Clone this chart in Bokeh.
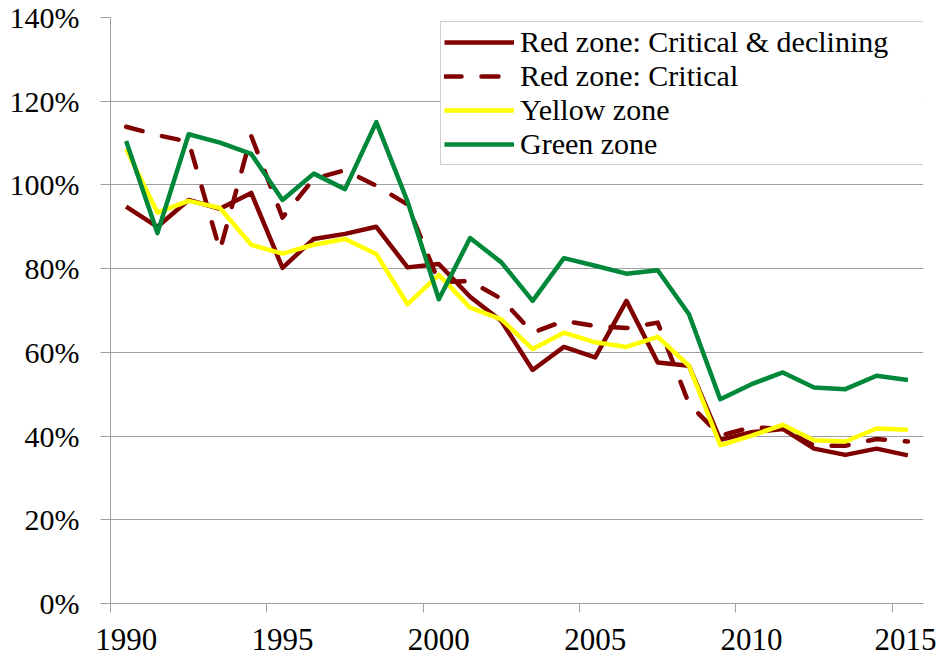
from bokeh.plotting import figure
from bokeh.models import FixedTicker, PrintfTickFormatter, Range1d, Legend, LegendItem, ColumnDataSource
from bokeh.embed import file_html
from bokeh.resources import INLINE

years = list(range(1990, 2016))

red_critical_declining = [94.8, 90.0, 96.4, 94.3, 98.1, 80.2, 87.1, 88.3, 90.0, 80.3,
                          81.1, 73.3, 67.5, 55.8, 61.3, 58.8, 72.3, 57.6, 56.8, 39.1,
                          40.9, 41.7, 37.0, 35.5, 37.0, 35.4]
red_critical = [113.9, 111.9, 110.3, 84.4, 111.7, 92.2, 101.5, 103.5, 99.8, 95.3,
                76.8, 77.0, 72.8, 64.7, 67.5, 66.3, 65.8, 67.1, 47.7, 40.1,
                42.1, 41.7, 37.7, 37.7, 39.3, 38.7]
yellow_zone = [108.6, 93.4, 96.2, 94.5, 85.7, 83.6, 85.7, 87.1, 83.5, 71.5,
               78.5, 70.7, 67.9, 60.8, 64.7, 62.4, 61.3, 63.7, 56.8, 37.8,
               40.1, 42.7, 39.0, 38.7, 41.8, 41.5]
green_zone = [110.5, 88.5, 112.1, 110.1, 107.4, 96.4, 102.7, 99.0, 115.0, 96.0,
              72.7, 87.3, 81.5, 72.3, 82.5, 80.7, 78.8, 79.6, 69.1, 48.8,
              52.4, 55.2, 51.6, 51.2, 54.4, 53.4]

series_names = ["Red zone: Critical & declining", "Red zone: Critical", "Yellow zone", "Green zone"]

x_label_years = [1990, 1995, 2000, 2005, 2010, 2015]
y_ticks = [0, 20, 40, 60, 80, 100, 120, 140]

FONT = "serif"
GRAY = "#a0a0a0"

src = ColumnDataSource(dict(year=years, rcd=red_critical_declining, rc=red_critical,
                            yz=yellow_zone, gz=green_zone))

p = figure(width=936, height=656, output_backend="svg", toolbar_location=None,
           x_range=Range1d(years[0] - 0.5, years[-1] + 0.5), y_range=Range1d(0, 140),
           min_border_left=110, min_border_right=13, min_border_top=17, min_border_bottom=53)
p.outline_line_color = None
p.background_fill_color = "white"

lw = 4.5
r1 = p.line("year", "rcd", source=src, line_color="#800000", line_width=lw, line_join="round")
r2 = p.line("year", "rc", source=src, line_color="#800000", line_width=lw, line_dash="17 20",
            line_cap="round", line_join="round")
r3 = p.line("year", "yz", source=src, line_color="#ffff00", line_width=lw, line_join="round")
r4 = p.line("year", "gz", source=src, line_color="#00883a", line_width=lw, line_join="round")

# x axis
xa = p.xaxis[0]
xa.ticker = FixedTicker(ticks=x_label_years, minor_ticks=[y - 0.5 for y in x_label_years])
xa.major_tick_line_color = None
xa.major_tick_out = 0
xa.major_tick_in = 0
xa.minor_tick_out = 9
xa.minor_tick_in = 0
xa.minor_tick_line_color = GRAY
xa.axis_line_color = GRAY
xa.major_label_text_font = FONT
xa.major_label_text_font_size = "31px"
xa.major_label_text_color = "black"
xa.major_label_standoff = 16

# y axis
ya = p.yaxis[0]
ya.ticker = FixedTicker(ticks=y_ticks, minor_ticks=[])
ya.formatter = PrintfTickFormatter(format="%d%%")
ya.major_tick_out = 10
ya.major_tick_in = 0
ya.major_tick_line_color = GRAY
ya.minor_tick_line_color = None
ya.axis_line_color = GRAY
ya.major_label_text_font = FONT
ya.major_label_text_font_size = "30px"
ya.major_label_text_color = "black"
ya.major_label_standoff = 21

p.xgrid.grid_line_color = None
p.ygrid.grid_line_color = GRAY
p.ygrid.ticker = FixedTicker(ticks=y_ticks)

legend = Legend(items=[LegendItem(label=series_names[0], renderers=[r1]),
                       LegendItem(label=series_names[1], renderers=[r2]),
                       LegendItem(label=series_names[2], renderers=[r3]),
                       LegendItem(label=series_names[3], renderers=[r4])],
                location=(330, 438), orientation="vertical")
legend.label_text_font = FONT
legend.label_text_font_size = "30px"
legend.label_text_color = "black"
legend.glyph_width = 70
legend.glyph_height = 30
legend.label_height = 30
legend.label_width = 400
legend.label_standoff = 6
legend.spacing = 0
legend.padding = 3
legend.margin = 0
legend.border_line_color = GRAY
legend.border_line_width = 1
legend.background_fill_alpha = 1
p.add_layout(legend, "center")

open("out.html", "w").write(file_html(p, INLINE))
